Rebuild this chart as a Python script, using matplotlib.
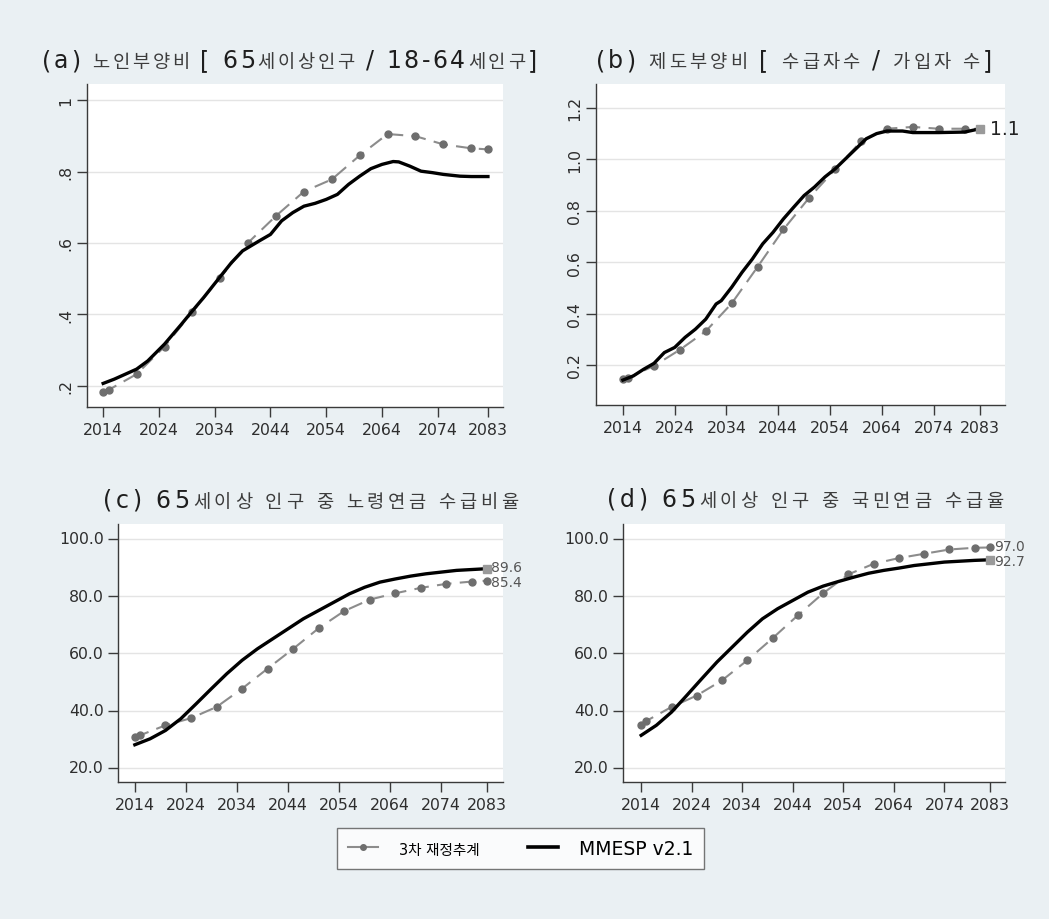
import numpy as np
import matplotlib
matplotlib.use("Agg")
import matplotlib.pyplot as plt
from matplotlib.lines import Line2D

plt.rcParams['font.family'] = ['DejaVu Sans', 'Noto Sans CJK KR']

''' DATA (read off the reference) '''
years_dash = [2014, 2015, 2020, 2025, 2030, 2035, 2040, 2045, 2050,
              2055, 2060, 2065, 2070, 2075, 2080, 2083]

# (a) old-age dependency ratio
a_dash = [0.184, 0.189, 0.233, 0.310, 0.407, 0.503, 0.601, 0.676, 0.744,
          0.778, 0.845, 0.905, 0.899, 0.876, 0.865, 0.862]
a_years = [2014, 2016, 2020, 2022, 2025, 2028, 2030, 2032, 2035, 2037, 2039,
           2042, 2044, 2046, 2048, 2050, 2052, 2054, 2056, 2058, 2060, 2062,
           2064, 2066, 2067, 2069, 2071, 2073, 2075, 2078, 2080, 2083]
a_mmesp = [0.207, 0.219, 0.247, 0.270, 0.317, 0.372, 0.410, 0.447, 0.506,
           0.545, 0.578, 0.606, 0.624, 0.662, 0.685, 0.703, 0.711, 0.722,
           0.736, 0.764, 0.787, 0.808, 0.820, 0.828, 0.827, 0.815, 0.801,
           0.797, 0.792, 0.787, 0.786, 0.786]

# (b) system dependency ratio
b_dash = [0.144, 0.150, 0.196, 0.259, 0.331, 0.439, 0.581, 0.727, 0.851,
          0.961, 1.070, 1.119, 1.126, 1.119, 1.119, 1.119]
b_years = [2014, 2016, 2018, 2020, 2022, 2024, 2026, 2028, 2030, 2032, 2033,
           2035, 2037, 2039, 2041, 2043, 2045, 2047, 2049, 2051, 2053, 2055,
           2057, 2059, 2061, 2063, 2065, 2068, 2070, 2075, 2080, 2083]
b_mmesp = [0.141, 0.157, 0.183, 0.206, 0.248, 0.268, 0.307, 0.339, 0.378,
           0.437, 0.450, 0.502, 0.560, 0.612, 0.671, 0.716, 0.768, 0.814,
           0.859, 0.892, 0.931, 0.963, 1.002, 1.041, 1.080, 1.100, 1.110,
           1.110, 1.104, 1.104, 1.106, 1.119]

# (c) basic pension recipients among 65+
c_dash = [30.8, 31.4, 34.9, 37.4, 41.3, 47.7, 54.7, 61.6, 68.8, 74.8, 78.8,
          81.0, 82.9, 84.3, 85.1, 85.4]
cd_years = [2014, 2017, 2020, 2023, 2026, 2029, 2032, 2035, 2038, 2041, 2044,
            2047, 2050, 2053, 2056, 2059, 2062, 2065, 2068, 2071, 2074, 2077,
            2080, 2083]
c_mmesp = [28.1, 30.2, 33.1, 37.2, 42.4, 47.7, 52.9, 57.6, 61.6, 65.1, 68.6,
           72.1, 75.0, 77.9, 80.8, 83.1, 84.9, 86.0, 87.0, 87.8, 88.4, 89.0,
           89.3, 89.6]

# (d) national pension recipients among 65+
d_dash = [34.9, 36.4, 41.3, 45.3, 50.6, 57.6, 65.3, 73.3, 81.0, 87.6, 91.3,
          93.3, 94.8, 96.3, 96.9, 97.0]
d_mmesp = [31.4, 34.9, 39.5, 45.3, 51.2, 57.0, 62.2, 67.4, 72.1, 75.6, 78.5,
           81.4, 83.5, 85.1, 86.6, 88.0, 89.0, 89.8, 90.7, 91.3, 91.9, 92.2,
           92.5, 92.7]

xticks = [2014, 2024, 2034, 2044, 2054, 2064, 2074, 2083]
bg = '#eaf0f3'
dash_col = '#8c8c8c'
mark_col = '#6e6e6e'
axis_col = '#3a3a3a'

W, H = 1049, 920
fig = plt.figure(figsize=(W / 100, H / 100), dpi=100, facecolor=bg)


def px_axes(left, top, right, bottom):
	return fig.add_axes([left / W, 1 - bottom / H, (right - left) / W, (bottom - top) / H])


def style(ax, xlim, ylim, yticks, ylabels, rot):
	ax.set_facecolor('white')
	for s in ['top', 'right']:
		ax.spines[s].set_visible(False)
	for s in ['left', 'bottom']:
		ax.spines[s].set_color(axis_col)
		ax.spines[s].set_linewidth(1.0)
	ax.set_xlim(*xlim)
	ax.set_ylim(*ylim)
	ax.set_xticks(xticks)
	ax.set_yticks(yticks)
	ax.set_yticklabels(ylabels, rotation=rot, va='center')
	ax.tick_params(axis='both', direction='out', length=7, width=1,
				   color=axis_col, labelcolor='#2e2e2e', labelsize=11.3)
	ax.tick_params(axis='y', pad=3)
	ax.grid(axis='y', color='#e4e4e4', lw=1.0)
	ax.set_axisbelow(True)


def plot_pair(ax, dash, yrs, solid, end_mark=True):
	ax.plot(years_dash, dash, color=dash_col, lw=1.5, dashes=(7, 4),
			marker='o', ms=5, mfc=mark_col, mec=mark_col, zorder=3)
	ax.plot(yrs, solid, color='black', lw=2.4, zorder=4)
	if end_mark:
		ax.plot(yrs[-1], solid[-1], 's', color='#9a9a9a', ms=6, zorder=5)


def spaced_title(x, y, segments, target):
	# draw char by char so the title can be stretched to the reference width
	renderer = fig.canvas.get_renderer()
	items = []
	for txt, size, col in segments:
		for ch in txt:
			if ch == ' ':
				items.append((None, size * 100 / 72 * 0.3))
				continue
			t = fig.text(0, 1 - y / H, ch, fontsize=size, color=col, va='baseline')
			w = t.get_window_extent(renderer).width
			items.append((t, w))
	natural = sum(w for _, w in items)
	track = (target - natural) / max(len(items) - 1, 1)
	cur = x
	for t, w in items:
		if t is not None:
			t.set_x(cur / W)
		cur += w + track


# (a)
axA = px_axes(87, 85, 503, 408)
style(axA, (2011.1, 2085.7), (0.141, 1.045), [0.2, 0.4, 0.6, 0.8, 1.0],
	  ['.2', '.4', '.6', '.8', '1'], 90)
plot_pair(axA, a_dash, a_years, a_mmesp, end_mark=False)

# (b)
axB = px_axes(596, 85, 1005, 406)
style(axB, (2008.8, 2087.8), (0.044, 1.293), [0.2, 0.4, 0.6, 0.8, 1.0, 1.2],
	  ['0.2', '0.4', '0.6', '0.8', '1.0', '1.2'], 90)
plot_pair(axB, b_dash, b_years, b_mmesp)
axB.annotate('1.1', (2083, b_mmesp[-1]), xytext=(7, 0), textcoords='offset points',
			 va='center', fontsize=13.5, color='#222222')

# (c)
axC = px_axes(118, 525, 503, 783)
style(axC, (2010.7, 2086.1), (15.1, 105.2), [20, 40, 60, 80, 100],
	  ['%.1f' % v for v in [20, 40, 60, 80, 100]], 0)
plot_pair(axC, c_dash, cd_years, c_mmesp)
axC.annotate('%.1f' % c_mmesp[-1], (2083, c_mmesp[-1]), xytext=(3, 1),
			 textcoords='offset points', va='center', fontsize=10, color='#555555',
			 annotation_clip=False)
axC.annotate('%.1f' % c_dash[-1], (2083, c_dash[-1]), xytext=(3, -1),
			 textcoords='offset points', va='center', fontsize=10, color='#555555',
			 annotation_clip=False)

# (d)
axD = px_axes(623, 525, 1005, 783)
style(axD, (2010.4, 2086.0), (15.1, 105.2), [20, 40, 60, 80, 100],
	  ['%.1f' % v for v in [20, 40, 60, 80, 100]], 0)
plot_pair(axD, d_dash, cd_years, d_mmesp)
axD.annotate('%.1f' % d_dash[-1], (2083, d_dash[-1]), xytext=(3, 1),
			 textcoords='offset points', va='center', fontsize=10, color='#555555',
			 annotation_clip=False)
axD.annotate('%.1f' % d_mmesp[-1], (2083, d_mmesp[-1]), xytext=(3, -1),
			 textcoords='offset points', va='center', fontsize=10, color='#555555',
			 annotation_clip=False)

''' Titles with mixed sizes '''
big, small = 17, 13.5
dk, lt = '#1e1e1e', '#3c3c3c'
spaced_title(42, 68, [('(a) ', big, dk), ('노인부양비 ', small, lt), ('[ 65', big, dk),
					  ('세이상인구 ', small, lt), ('/ 18-64', big, dk), ('세인구', small, lt),
					  (']', big, dk)], 495)
spaced_title(596, 68, [('(b) ', big, dk), ('제도부양비 ', small, lt), ('[ ', big, dk),
					   ('수급자수 ', small, lt), ('/ ', big, dk), ('가입자 수', small, lt),
					   (']', big, dk)], 396)
spaced_title(103, 508, [('(c) 65', big, dk), ('세이상 인구 중 노령연금 수급비율', small, lt)], 415)
spaced_title(607, 507, [('(d) 65', big, dk), ('세이상 인구 중 국민연금 수급율', small, lt)], 396)

''' Legend '''
handles = [Line2D([], [], color=dash_col, lw=1.5, marker='o', ms=4,
				  mfc=mark_col, mec=mark_col),
		   Line2D([], [], color='black', lw=2.6)]
leg = fig.legend(handles, ['3차 재정추계', 'MMESP v2.1'], loc='center',
				 bbox_to_anchor=(520.5 / W, 1 - 849.5 / H), ncol=2, fontsize=13.5,
				 frameon=True, fancybox=False, edgecolor='#555555',
				 handlelength=1.6, columnspacing=2.6, borderpad=0.6, handletextpad=1.1)
leg.get_frame().set_linewidth(1.0)
leg.get_texts()[0].set_fontsize(10.5)

fig.savefig('out.png', dpi=100, facecolor=bg)
